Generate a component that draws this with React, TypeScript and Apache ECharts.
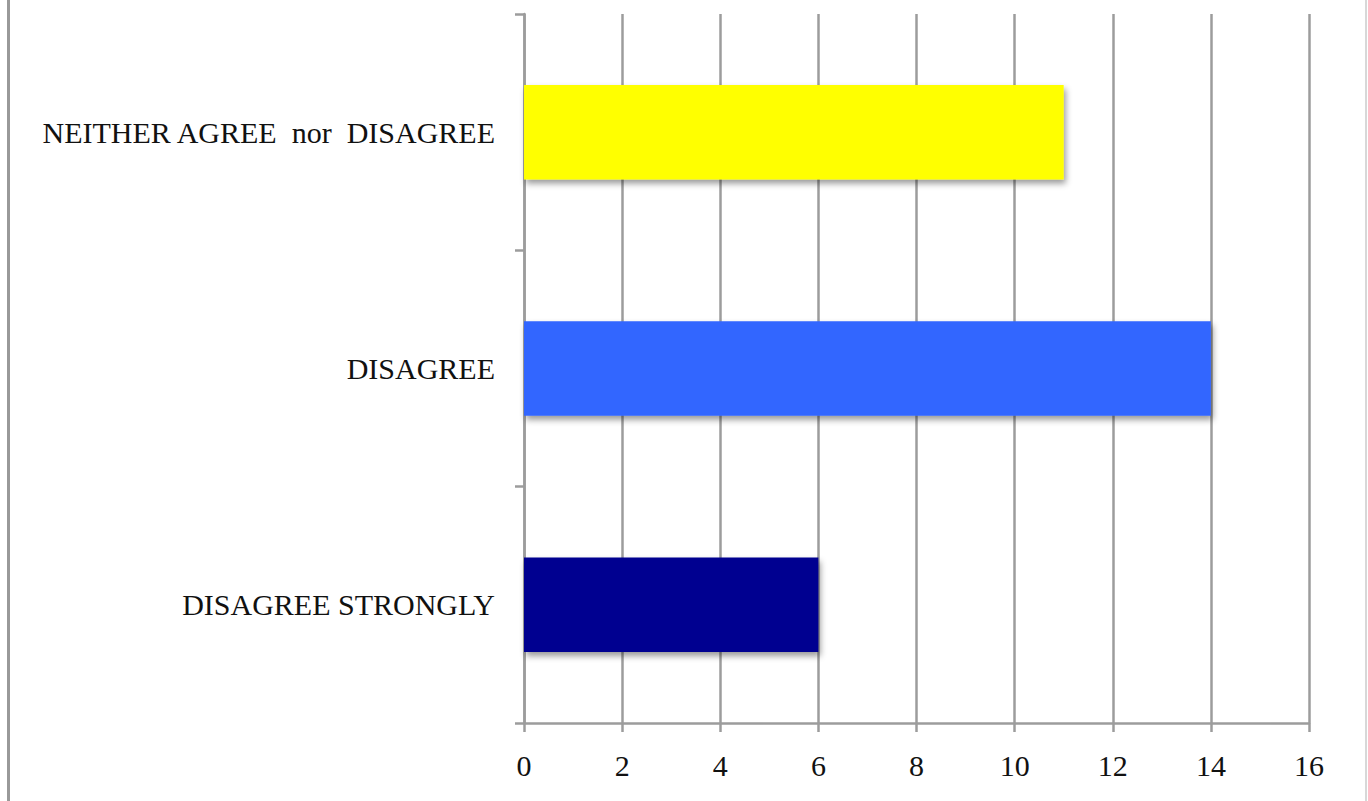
import React, { useEffect, useRef } from "react";
import * as echarts from "echarts";

const categories = ["DISAGREE STRONGLY", "DISAGREE", "NEITHER AGREE  nor  DISAGREE"];
const values = [6, 14, 11];
const barColors = ["#000090", "#3366FF", "#FFFF00"];
const xTicks = { min: 0, max: 16, interval: 2 };

export default function App() {
  const ref = useRef<HTMLDivElement>(null);
  useEffect(() => {
    document.body.style.margin = "0";
    const chart = echarts.init(ref.current!, null, { renderer: "svg" });
    const font = "'Liberation Serif', 'DejaVu Serif', serif";
    chart.setOption({
      animation: false,
      backgroundColor: "#ffffff",
      grid: { left: 524, right: 59, top: 14, bottom: 78, containLabel: false },
      xAxis: {
        type: "value",
        min: xTicks.min,
        max: xTicks.max,
        interval: xTicks.interval,
        axisLine: { show: true, lineStyle: { color: "#9C9C9C", width: 2.5 } },
        axisTick: { show: true, length: 9, lineStyle: { color: "#9C9C9C", width: 2.5 } },
        splitLine: { show: true, lineStyle: { color: "#9C9C9C", width: 2.5 } },
        axisLabel: { color: "#111", fontFamily: font, fontSize: 30, margin: 27 },
      },
      yAxis: {
        type: "category",
        data: categories,
        axisLine: { show: true, lineStyle: { color: "#9C9C9C", width: 2.5 } },
        axisTick: { show: true, length: 9, lineStyle: { color: "#9C9C9C", width: 2.5 } },
        axisLabel: { color: "#111", fontFamily: font, fontSize: 30, margin: 29 },
        splitLine: { show: false },
      },
      series: [
        {
          type: "bar",
          barWidth: "40%",
          data: values.map((v, i) => ({ value: v, itemStyle: { color: barColors[i] } })),
          itemStyle: {
            shadowBlur: 6,
            shadowOffsetX: 2,
            shadowOffsetY: 4,
            shadowColor: "rgba(0,0,0,0.4)",
          },
        },
      ],
      graphic: [
        { type: "rect", left: 7, top: 0, shape: { width: 3, height: 801 }, style: { fill: "#999999" } },
        { type: "rect", left: 1365, top: 0, shape: { width: 2, height: 801 }, style: { fill: "#d8d8d8" } },
      ],
    });
    return () => chart.dispose();
  }, []);
  return <div ref={ref} style={{ width: 1368, height: 801 }} />;
}
